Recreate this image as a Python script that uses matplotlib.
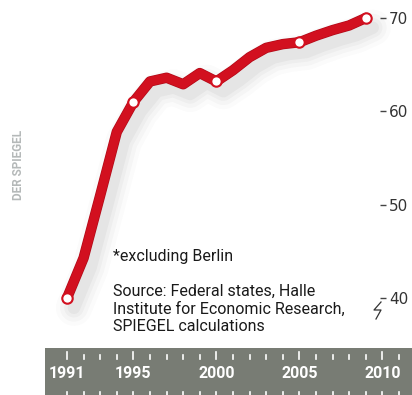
import matplotlib
matplotlib.use('Agg')
import matplotlib.pyplot as plt
import matplotlib.patheffects as pe

# Data
years = list(range(1991, 2010))
values = [40.0, 44.3, 51.0, 57.8, 61.0, 63.2, 63.6, 62.9, 64.1, 63.2,
          64.4, 65.8, 66.8, 67.2, 67.4, 68.1, 68.7, 69.2, 70.0]
marker_years = [1991, 1995, 2000, 2005, 2009]
ytick_values = [40, 50, 60, 70]
xtick_labels = [1991, 1995, 2000, 2005, 2010]

footnote = "*excluding Berlin"
source = "Source: Federal states, Halle\nInstitute for Economic Research,\nSPIEGEL calculations"

W, H = 412, 395
RED = '#d2101f'
BAND = '#787c74'
NARROW = ['Roboto', 'DejaVu Sans']

fig = plt.figure(figsize=(W / 100, H / 100), dpi=100)

# pixel geometry
px_per_year = 16.6
x0_px = 45
year_at_x0 = 1991 - (67 - x0_px) / px_per_year

# main plot axes
ax_w = 335
ax = fig.add_axes([x0_px / W, (H - 348) / H, ax_w / W, 348 / H])
ax.set_xlim(year_at_x0, year_at_x0 + ax_w / px_per_year)
px_per_unit = 9.35
ax.set_ylim(40 - 50 / px_per_unit, 70 + 18 / px_per_unit)
for s in ax.spines.values():
    s.set_visible(False)
ax.set_xticks([])
ax.yaxis.tick_right()
ax.set_yticks(ytick_values)
ax.tick_params(axis='y', direction='out', length=4, width=1, color='#444444',
               pad=2.5, labelsize=11, labelcolor='#333333')

# soft shadow under the line
shadows = []
for lw, a in [(26, 0.025), (20, 0.035), (14, 0.045), (9, 0.06)]:
    shadows.append(pe.SimpleLineShadow(offset=(5, -7), shadow_color='#555555',
                                       alpha=a, linewidth=lw))
ax.plot(years, values, color=RED, lw=6.5, solid_capstyle='round',
        solid_joinstyle='round', clip_on=False, zorder=3,
        path_effects=shadows + [pe.Stroke(linewidth=7.5, foreground='#b00a18'), pe.Normal()])

mvals = [values[years.index(y)] for y in marker_years]
ax.plot(marker_years, mvals, 'o', ms=7.5, mfc='white', mec=RED, mew=1.5,
        clip_on=False, zorder=4)

# axis break symbol
bx = [381, 374, 381, 376]
by = [302, 310, 310, 319]
fig.add_artist(plt.Line2D([v / W for v in bx], [1 - v / H for v in by],
                          color='#333333', lw=0.9))

# bottom band with years
bax = fig.add_axes([x0_px / W, 0, (W - x0_px) / W, 47 / H])
bax.set_xlim(year_at_x0, year_at_x0 + (W - x0_px) / px_per_year)
bax.set_ylim(0, 47)
bax.set_facecolor(BAND)
for s in bax.spines.values():
    s.set_visible(False)
bax.set_xticks([])
bax.set_yticks([])
for y in range(1991, 2012):
    top = 43 if y in xtick_labels else 40
    bax.plot([y, y], [36, top], color='white', lw=1.2)
    bax.plot([y, y], [0, 3], color='white', lw=1.2)
for y in xtick_labels:
    bax.text(y, 22, str(y), color='white', fontsize=11.5, fontweight='bold',
             family=NARROW, ha='center', va='center')

# notes
fig.text(113 / W, 1 - 257 / H, footnote, fontsize=11.5, family=NARROW,
         color='#1a1a1a', va='center', ha='left')
fig.text(113 / W, 1 - 284 / H, source, fontsize=11.5, family=NARROW,
         color='#1a1a1a', va='top', ha='left', linespacing=1.2)

fig.text(18 / W, 1 - 165 / H, 'DER SPIEGEL', rotation=90, fontsize=8.5,
         fontweight='bold', family=NARROW, color='#b5b9b9',
         ha='center', va='center')

fig.savefig('out.png', dpi=100)
